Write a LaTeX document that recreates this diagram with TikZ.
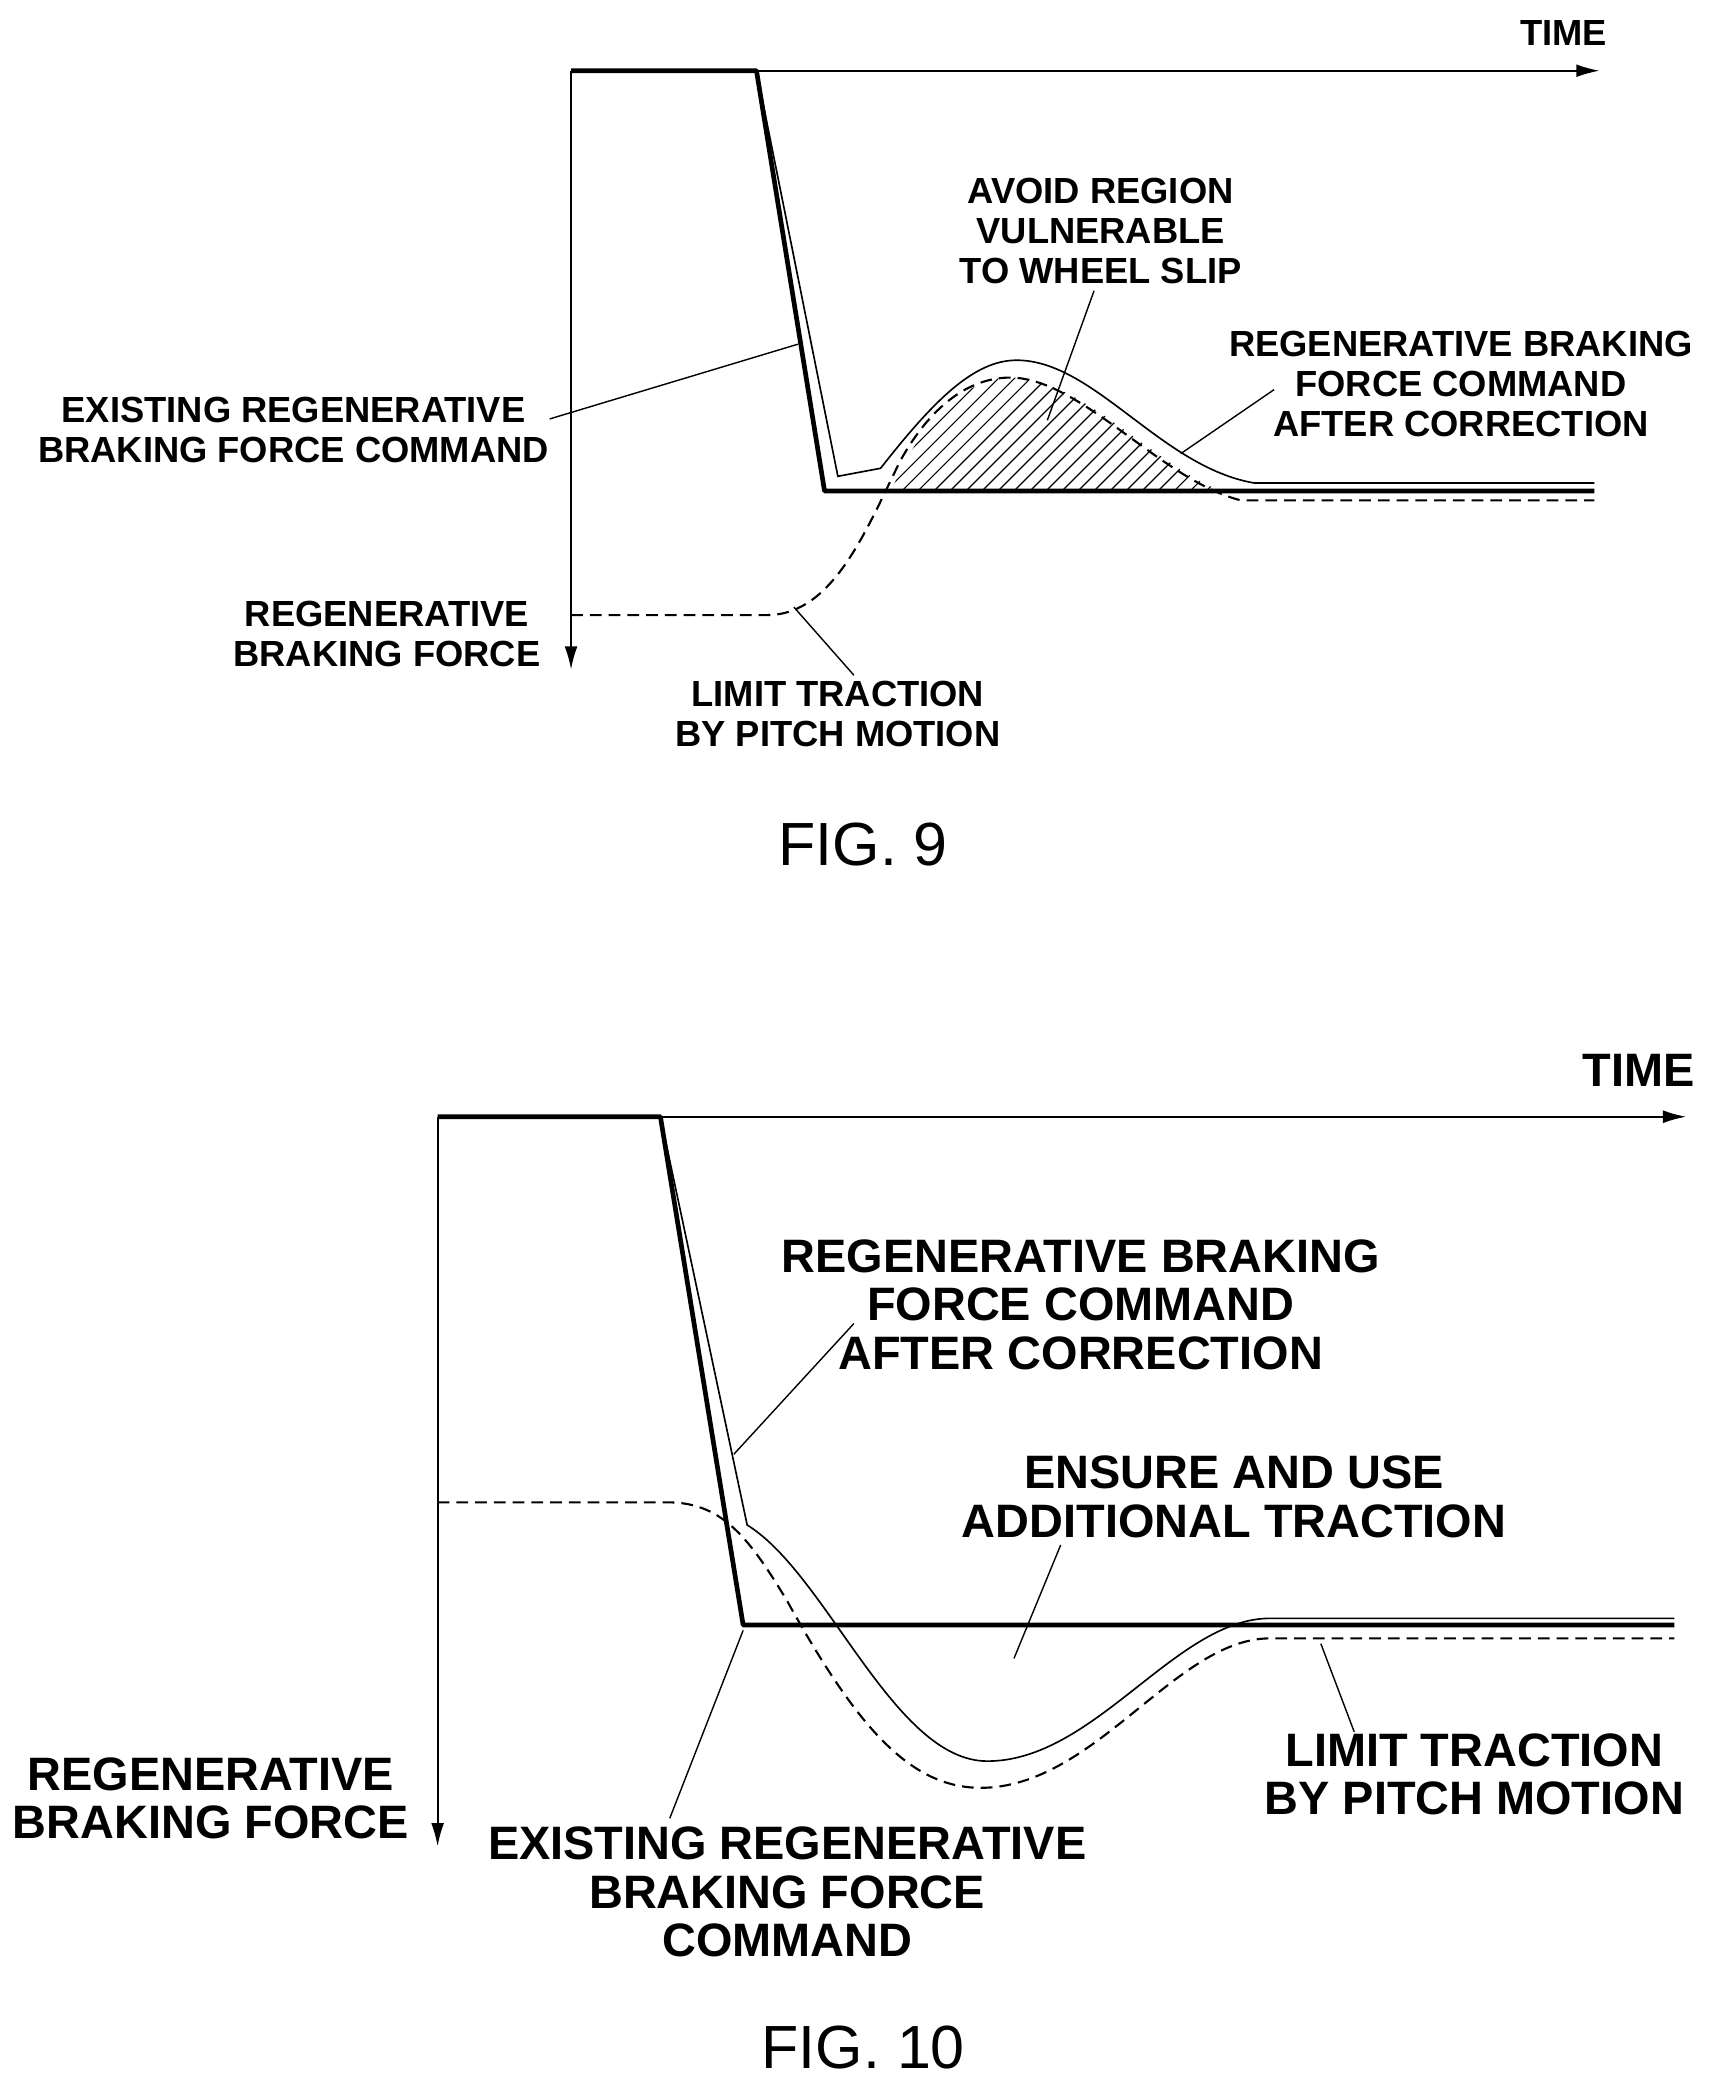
\documentclass[tikz,border=0pt]{standalone}
\usepackage{fontspec}
\setmainfont{Liberation Sans}
\usetikzlibrary{arrows.meta}
\begin{document}
\begin{tikzpicture}[x=0.02cm,y=-0.02cm,
 lbl/.style={font=\bfseries\fontsize{15.5}{17}\selectfont,align=center,inner sep=0pt},
 lblb/.style={font=\bfseries\fontsize{20}{20.7}\selectfont,align=center,inner sep=0pt},
 figcap/.style={font=\fontsize{26}{30}\selectfont,inner sep=0pt},
 ax/.style={line width=0.9pt,-{Latex[length=10pt,width=5.5pt]}},
 cmd/.style={line width=2pt,line join=round},
 corr/.style={line width=0.7pt},
 dsh/.style={line width=0.9pt,dash pattern=on 5pt off 3pt},
 lead/.style={line width=0.6pt},
 hatch/.style={line width=0.5pt}]
\useasboundingbox (0,0) rectangle (1292,1568);
% ---------- FIG 9 ----------
\coordinate (o9) at (428,53);
\draw[ax] (o9) -- (428,502);
\draw[ax] (o9) -- (1199,53);
\node[lbl] (t9) at (1172,25) {TIME};
\begin{scope}
\clip (668,368) .. controls (690,315) and (725,283) .. (757,283) .. controls (810,283) and (860,345) .. (915,368) -- cycle;
\foreach \i in {0,...,30} {\draw[hatch] (640+\i*12,380) -- ++(110,-110);}
\end{scope}
\draw[cmd] (428,53) -- (567,53) -- (618,368) -- (1195,368);
\draw[corr] (567,53) -- (628,357) -- (660,351) .. controls (700,300) and (730,270) .. (762,270) .. controls (820,270) and (870,350) .. (940,362) -- (1195,362);
\draw[dsh] (428,461) -- (575,461) .. controls (625,461) and (650,395) .. (675,345) .. controls (700,300) and (730,283) .. (757,283) .. controls (810,283) and (870,360) .. (930,375) -- (1195,375);
\node[lbl] (e9) at (220,322) {EXISTING REGENERATIVE\\BRAKING FORCE COMMAND};
\coordinate (e9p) at (598,258);
\draw[lead] (412,314) -- (e9p);
\node[lbl] (a9) at (825,173) {AVOID REGION\\VULNERABLE\\TO WHEEL SLIP};
\coordinate (a9p) at (785,315);
\draw[lead] (820,218) -- (a9p);
\node[lbl] (c9) at (1095,288) {REGENERATIVE BRAKING\\FORCE COMMAND\\AFTER CORRECTION};
\coordinate (c9p) at (885,340);
\draw[lead] (955,292) -- (c9p);
\node[lbl] (f9) at (290,475) {REGENERATIVE\\BRAKING FORCE};
\node[lbl] (l9) at (628,535) {LIMIT TRACTION\\BY PITCH MOTION};
\coordinate (l9p) at (595,455);
\draw[lead] (l9.north) ++(12,-4) -- (l9p);
\node[figcap] (fig9) at (647,633) {FIG. 9};
% ---------- FIG 10 ----------
\coordinate (o10) at (328,837);
\draw[ax] (o10) -- (328,1384);
\draw[ax] (o10) -- (1264,837);
\node[lblb] (t10) at (1228,802) {TIME};
\draw[cmd] (328,837) -- (495,837) -- (557,1218) -- (1255,1218);
\draw[corr] (495,837) -- (560,1143) .. controls (620,1180) and (670,1320) .. (740,1320) .. controls (820,1320) and (880,1215) .. (950,1213) -- (1255,1213);
\draw[dsh] (328,1126) -- (500,1126) .. controls (540,1126) and (560,1150) .. (590,1200) .. controls (640,1290) and (680,1340) .. (735,1340) .. controls (820,1340) and (880,1230) .. (950,1228) -- (1255,1228);
\node[lblb] (c10) at (810,978) {REGENERATIVE BRAKING\\FORCE COMMAND\\AFTER CORRECTION};
\coordinate (c10p) at (550,1090);
\draw[lead] (640,992) -- (c10p);
\node[lblb] (u10) at (925,1122) {ENSURE AND USE\\ADDITIONAL TRACTION};
\coordinate (u10p) at (760,1243);
\draw[lead] (795,1158) -- (u10p);
\node[lblb] (l10) at (1105,1330) {LIMIT TRACTION\\BY PITCH MOTION};
\coordinate (l10p) at (990,1232);
\draw[lead] (1015,1298) -- (l10p);
\node[lblb] (f10) at (158,1348) {REGENERATIVE\\BRAKING FORCE};
\node[lblb] (e10) at (590,1418) {EXISTING REGENERATIVE\\BRAKING FORCE\\COMMAND};
\coordinate (e10p) at (557,1222);
\draw[lead] (e10.north) ++(-88,-6) -- (e10p);
\node[figcap] (fig10) at (647,1535) {FIG. 10};
\end{tikzpicture}
\end{document}
